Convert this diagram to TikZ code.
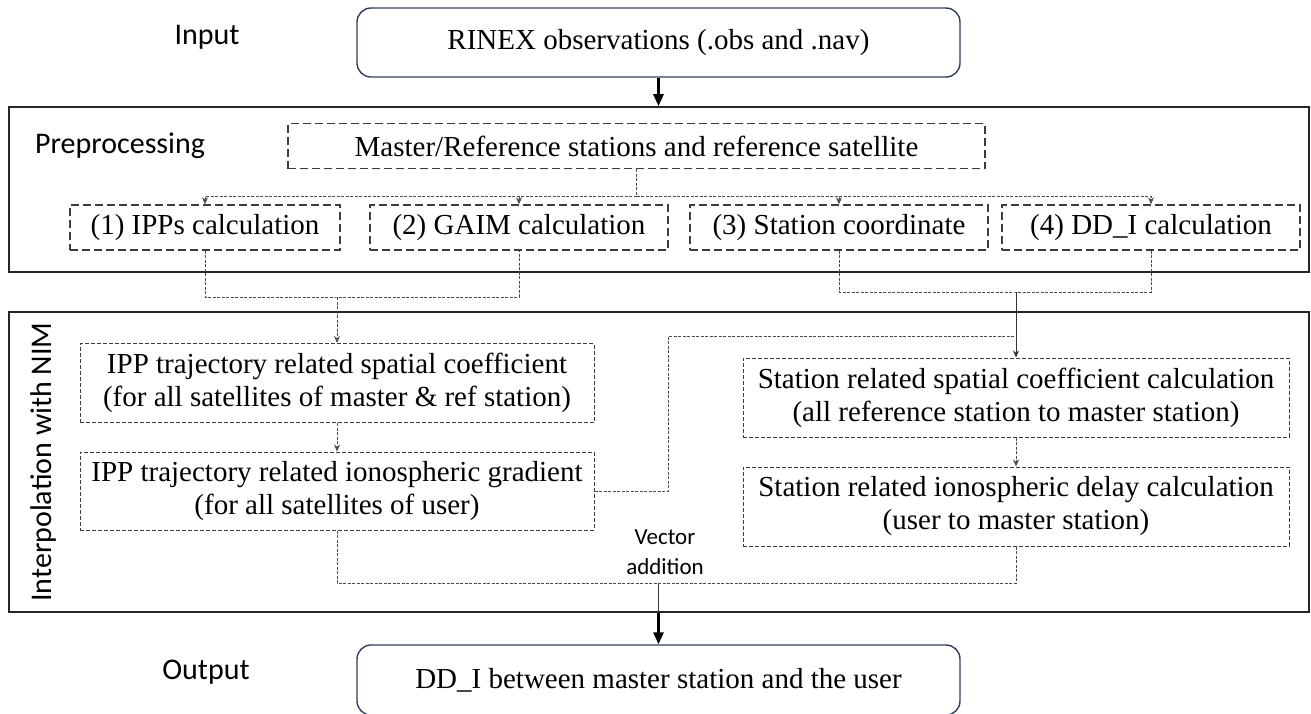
\documentclass[tikz,border=0pt]{standalone}
\usepackage{fontspec}
\setmainfont{Liberation Serif}
\newfontfamily\lblfont{Carlito}
\usetikzlibrary{arrows.meta,calc}
\definecolor{slateblue}{RGB}{47,62,92}
\definecolor{dashgray}{RGB}{60,60,60}

\begin{document}
\begin{tikzpicture}[x=1pt, y=-1pt,
  boxfont/.style={font=\fontsize{29}{33}\selectfont},
  lbl/.style={font=\lblfont\fontsize{30}{34}\selectfont},
  io/.style={boxfont, draw=slateblue, line width=1.4pt, rounded corners=14pt,
             align=center, minimum width=603pt, minimum height=69pt},
  frame/.style={draw=black!85, line width=1.6pt, minimum width=1300pt},
  prebox/.style={boxfont, draw=dashgray, line width=1.4pt,
                 dash pattern=on 8pt off 4pt, minimum height=45pt, inner sep=2pt},
  nimbox/.style={boxfont, draw=dashgray, line width=1pt, align=center,
                 dash pattern=on 4pt off 2pt, minimum height=79pt, inner sep=2pt},
  conn/.style={draw=black!70, line width=0.9pt, dash pattern=on 3pt off 1.5pt},
  tip/.style={-{Stealth[length=7pt, width=6pt]}},
  bigarr/.style={line width=2.6pt, -{Triangle[length=12pt, width=10pt]}}]

\useasboundingbox (0,0) rectangle (1311,713);

% ---------- input ----------
\node[lbl] (inlbl) at (207,37) {Input};
\node[io] (rinex) at (658.5,42.5) {RINEX observations (.obs and .nav)};

% ---------- preprocessing ----------
\node[frame, minimum height=165pt] (prep) at (659,189.5) {};
\node[lbl] (preplbl) at (120,146) {Preprocessing};
\node[prebox, minimum width=697pt] (master) at (636.5,146)
  {Master/Reference stations and reference satellite};
\node[prebox, minimum width=270pt] (ipps) at (205,227.5) {(1) IPPs calculation};
\node[prebox, minimum width=298pt] (gaim) at (519,227.5) {(2) GAIM calculation};
\node[prebox, minimum width=298pt] (stcoord) at (839,227.5) {(3) Station coordinate};
\node[prebox, minimum width=298pt] (ddi) at (1151,227.5) {(4) DD\_I calculation};

\draw[bigarr] (rinex.south) -- (rinex.south |- prep.north);

\coordinate (split) at ($(master.south)+(0,27)$);
\draw[conn] (master.south) -- (split);
\draw[conn, tip] (split) -| (ipps.north);
\draw[conn, tip] (split) -| (gaim.north);
\draw[conn, tip] (split) -| (stcoord.north);
\draw[conn, tip] (split) -| (ddi.north);

% ---------- interpolation with NIM ----------
\node[frame, minimum height=300pt] (nim) at (659,462) {};
\node[lbl, rotate=90] (nimlbl) at (44,462) {Interpolation with NIM};
\node[nimbox, minimum width=514pt] (ippspat) at (337,383)
  {IPP trajectory related spatial coefficient\\(for all satellites of master \& ref station)};
\node[nimbox, minimum width=514pt, minimum height=78pt] (ippgrad) at (337,491)
  {IPP trajectory related ionospheric gradient\\(for all satellites of user)};
\node[nimbox, minimum width=546pt] (stspat) at (1016,397.5)
  {Station related spatial coefficient calculation\\(all reference station to master station)};
\node[nimbox, minimum width=546pt] (stdelay) at (1016,506.5)
  {Station related ionospheric delay calculation\\(user to master station)};

\coordinate (joinL) at (ippspat.north |- 0,297);
\draw[conn] (ipps.south) |- (joinL) -| (gaim.south);
\draw[conn, tip] (joinL) -- (ippspat.north);
\draw[conn, tip] (ippspat) -- (ippgrad);

\coordinate (joinR) at (stspat.north |- 0,292);
\coordinate (branch) at (stspat.north |- 0,336);
\draw[conn] (stcoord.south) |- (joinR) -| (ddi.south);
\draw[black!80, line width=0.8pt, tip] (joinR) -- (stspat.north);
\draw[conn, tip] (stspat) -- (stdelay);
\draw[conn] (ippgrad.east) -| (668,336) -- (branch);

% ---------- vector addition ----------
\coordinate (vsum) at (rinex.south |- 0,583);
\draw[conn] (ippgrad.south) |- (vsum) -| (stdelay.south);
\node[lbl, font=\lblfont\fontsize{23}{30}\selectfont, align=center] (vlbl) at (665,552)
  {Vector\\addition};

% ---------- output ----------
\node[lbl] (outlbl) at (206,672) {Output};
\node[io, minimum height=70pt] (output) at (658.5,680)
  {DD\_I between master station and the user};
\draw[black!80, line width=0.8pt] (vsum) -- (vsum |- nim.south);
\draw[bigarr] (vsum |- nim.south) -- (output.north);
\end{tikzpicture}
\end{document}
